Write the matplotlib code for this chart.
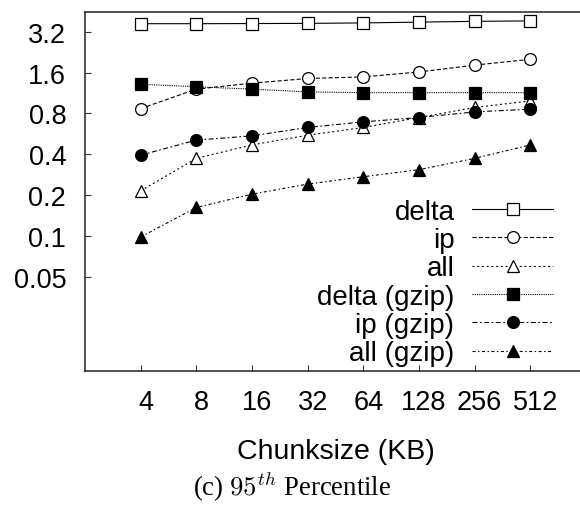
import matplotlib
matplotlib.use("Agg")
import matplotlib.pyplot as plt
from matplotlib.transforms import ScaledTranslation

plt.rcParams["font.family"] = ["Liberation Sans", "DejaVu Sans"]
plt.rcParams["mathtext.fontset"] = "cm"
plt.rcParams["lines.scale_dashes"] = False

# Chunk sizes (KB) and 95th-percentile values per encoding
chunk_sizes = ["4", "8", "16", "32", "64", "128", "256", "512"]
delta = [3.68, 3.68, 3.69, 3.70, 3.73, 3.78, 3.83, 3.86]
ip = [0.87, 1.21, 1.34, 1.45, 1.49, 1.62, 1.82, 2.01]
all_plain = [0.215, 0.373, 0.469, 0.553, 0.631, 0.747, 0.886, 0.991]
delta_gzip = [1.315, 1.26, 1.21, 1.155, 1.14, 1.14, 1.14, 1.14]
ip_gzip = [0.394, 0.509, 0.547, 0.631, 0.694, 0.747, 0.822, 0.861]
all_gzip = [0.098, 0.162, 0.203, 0.241, 0.273, 0.308, 0.373, 0.469]
series_labels = ["delta", "ip", "all", "delta (gzip)", "ip (gzip)", "all (gzip)"]
y_ticks = [0.05, 0.1, 0.2, 0.4, 0.8, 1.6, 3.2]
y_tick_labels = ["0.05", "0.1", "0.2", "0.4", "0.8", "1.6", "3.2"]

series = [delta, ip, all_plain, delta_gzip, ip_gzip, all_gzip]
styles = [
    dict(marker="s", mfc="white", ls="-"),
    dict(marker="o", mfc="white", ls=(0, (3.0, 1.6))),
    dict(marker="^", mfc="white", ls=(0, (1.4, 2.0))),
    dict(marker="s", mfc="black", ls=(0, (0.8, 0.8))),
    dict(marker="o", mfc="black", ls=(0, (3.6, 1.8, 1.2, 1.8))),
    dict(marker="^", mfc="black", ls=(0, (2.2, 1.8, 1.0, 1.8))),
]

W, H = 580, 506
fig = plt.figure(figsize=(W / 100, H / 100), dpi=100)
left, right, top, bottom = 85, 586, 13, 372.3
ax = fig.add_axes([left / W, 1 - bottom / H, (right - left) / W, (bottom - top) / H])

x = list(range(len(chunk_sizes)))
for vals, lab, st in zip(series, series_labels, styles):
    ax.plot(x, vals, color="black", lw=0.8, ms=8.5, mec="black", mew=0.9,
            label=lab, **st)

ax.set_yscale("log", base=2)
ax.set_ylim(0.01, 4.49)
ax.set_yticks(y_ticks)
ax.set_yticklabels(y_tick_labels)
ax.minorticks_off()
ax.set_xlim(-1, 8)
ax.set_xticks(x)
ax.set_xticklabels(chunk_sizes)

for sp in ax.spines.values():
    sp.set_linewidth(1.1)
    sp.set_color("#222222")

ax.tick_params(axis="both", direction="in", length=4.3, width=0.8,
               colors="#333333", labelcolor="black", labelsize=19.5)
ax.tick_params(axis="y", pad=13.5)
ax.tick_params(axis="x", pad=13)
shift = ScaledTranslation(5 / 100, 0, fig.dpi_scale_trans)
for lbl in ax.get_xticklabels():
    lbl.set_transform(lbl.get_transform() + shift)

ax.set_xlabel("Chunksize (KB)", fontsize=20.5, labelpad=16)

leg = ax.legend(loc="upper right", bbox_to_anchor=(553 / W, 1 - 199.5 / H),
                bbox_transform=fig.transFigure, frameon=False, markerfirst=False,
                fontsize=20, handlelength=2.9, handletextpad=0.65,
                labelspacing=0.085, borderpad=0, borderaxespad=0)

fig.text(291.7 / W, 1 - 486.5 / H, r"(c) $95^{th}$ Percentile",
         family=["Liberation Serif", "DejaVu Serif"], fontsize=19.3,
         ha="center", va="center")

fig.savefig("out.png", dpi=100)
